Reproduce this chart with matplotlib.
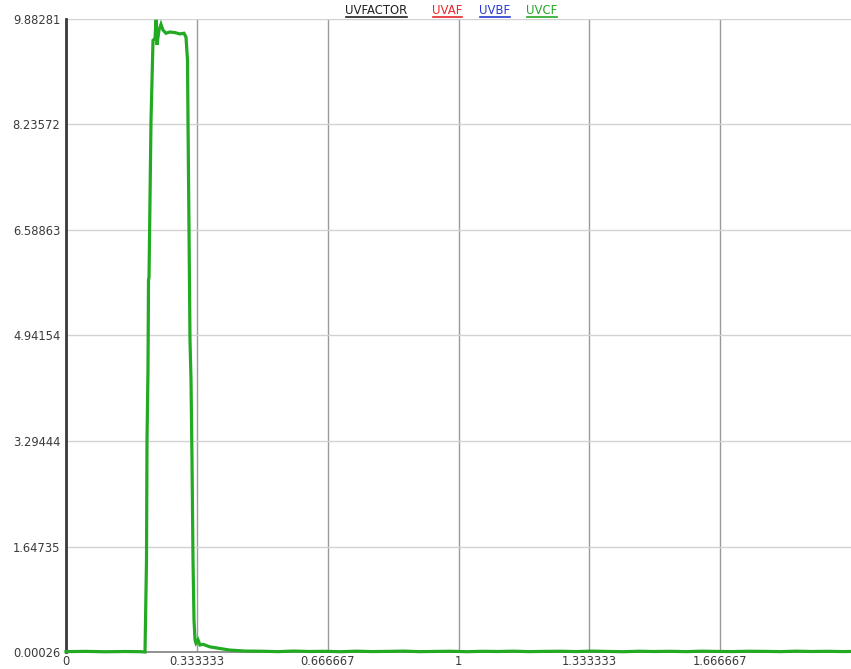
import matplotlib
matplotlib.use("Agg")
import matplotlib.pyplot as plt
from matplotlib.lines import Line2D

plt.rcParams['font.family'] = ['DejaVu Sans']

# UVCF pulse: time (x) vs factor (y)
pulse_x = [0.0, 0.05, 0.10, 0.15, 0.19, 0.2013, 0.2051, 0.2064, 0.2089, 0.2102,
           0.2115, 0.2166, 0.2204, 0.2217, 0.2268, 0.2293, 0.2318, 0.2369, 0.2420,
           0.2471, 0.2548, 0.2650, 0.2777, 0.2900, 0.3006, 0.3057, 0.3096, 0.3108,
           0.3134, 0.3159, 0.3185, 0.3210, 0.3236, 0.3261, 0.3287, 0.3312, 0.3363,
           0.3414, 0.3490, 0.3669, 0.3924, 0.4178, 0.4561]
pulse_y = [0.006, 0.010, 0.004, 0.008, 0.005, 0.0003, 1.44, 3.31, 4.40, 5.81,
           5.85, 8.31, 9.24, 9.55, 9.58, 9.87, 9.48, 9.71, 9.80,
           9.71, 9.66, 9.68, 9.67, 9.65, 9.66, 9.60, 9.24, 8.31,
           6.59, 4.87, 4.25, 3.00, 1.44, 0.50, 0.19, 0.14, 0.19,
           0.11, 0.12, 0.08, 0.055, 0.03, 0.015]

# low-level residual after the pulse
tail_x = [0.50, 0.54, 0.58, 0.62, 0.66, 0.70, 0.74, 0.78, 0.82, 0.86, 0.90,
          0.94, 0.98, 1.02, 1.06, 1.10, 1.14, 1.18, 1.22, 1.26, 1.30, 1.34,
          1.38, 1.42, 1.46, 1.50, 1.54, 1.58, 1.62, 1.66, 1.70, 1.74, 1.78,
          1.82, 1.86, 1.90, 1.94, 1.98, 2.00]
tail_y = [0.012, 0.006, 0.015, 0.008, 0.011, 0.005, 0.013, 0.007, 0.010, 0.014,
          0.006, 0.009, 0.012, 0.005, 0.011, 0.008, 0.013, 0.006, 0.010, 0.012,
          0.007, 0.014, 0.009, 0.005, 0.012, 0.008, 0.011, 0.006, 0.013, 0.009,
          0.007, 0.012, 0.010, 0.006, 0.013, 0.008, 0.011, 0.007, 0.009]

x_ticks = [0, 1/3, 2/3, 1, 4/3, 5/3]
x_labels = ["0", "0.333333", "0.666667", "1", "1.333333", "1.666667"]
y_ticks = [0.00026, 1.64735, 3.29444, 4.94154, 6.58863, 8.23572, 9.88281]
y_labels = ["0.00026", "1.64735", "3.29444", "4.94154", "6.58863", "8.23572", "9.88281"]

series_names = ["UVFACTOR", "UVAF", "UVBF", "UVCF"]
series_colors = ["#222222", "#e8262b", "#2a3ad0", "#22aa22"]

W, H = 851, 669
fig = plt.figure(figsize=(W / 100, H / 100), dpi=100)
ax = fig.add_axes([66 / W, (H - 652) / H, (W - 66) / W, (652 - 19) / H])

ax.plot(pulse_x + tail_x, pulse_y + tail_y, color=series_colors[3],
        linewidth=2.3, solid_joinstyle='miter', clip_on=False, zorder=3)

ax.set_xlim(0, 2.0)
ax.set_ylim(y_ticks[0], y_ticks[-1])
ax.set_xticks(x_ticks)
ax.set_xticklabels(x_labels)
ax.set_yticks(y_ticks)
ax.set_yticklabels(y_labels)
ax.tick_params(axis='both', length=0, labelsize=8.3, colors='#3a3a3a')
ax.tick_params(axis='x', pad=2)
ax.tick_params(axis='y', pad=4)

ax.xaxis.grid(True, color='#9a9a9a', linewidth=1.0)
ax.yaxis.grid(True, color='#d2d2d2', linewidth=1.0)
ax.set_axisbelow(True)

for side in ('top', 'right'):
    ax.spines[side].set_visible(False)
ax.spines['left'].set_color('#3a3a3a')
ax.spines['left'].set_linewidth(2.0)
ax.spines['bottom'].set_color('#808080')
ax.spines['bottom'].set_linewidth(1.2)

# legend entries: underlined coloured names along the top
starts = [345, 432, 479, 526]
texts = []
for name, color, px in zip(series_names, series_colors, starts):
    t = fig.text(px / W, 1 - 14.5 / H, name, color=color, fontsize=8.4,
                 ha='left', va='baseline')
    texts.append(t)
fig.canvas.draw()
renderer = fig.canvas.get_renderer()
for t in texts:
    bb = t.get_window_extent(renderer)
    yline = (H - 16.5) / H
    fig.add_artist(Line2D([(bb.x0 + 0.5) / W, (bb.x1 - 0.5) / W], [yline, yline],
                          color=t.get_color(), linewidth=1.2,
                          transform=fig.transFigure))

fig.savefig("out.png", dpi=100)
